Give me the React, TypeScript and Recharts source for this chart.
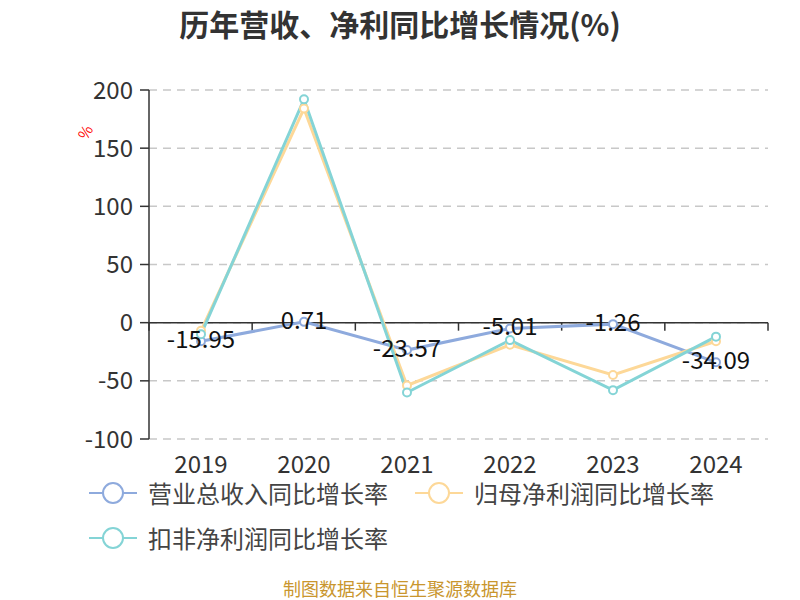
import React from 'react';
import { LineChart, Line, XAxis, YAxis, CartesianGrid, ReferenceLine, LabelList } from 'recharts';

const years = ['2019', '2020', '2021', '2022', '2023', '2024'];
const revenueGrowth = [-15.95, 0.71, -23.57, -5.01, -1.26, -34.09];
const netProfitGrowth = [-7, 184, -54, -19, -45, -16];
const deductedProfitGrowth = [-10, 192, -60, -15, -58, -12];
const yTicks = [-100, -50, 0, 50, 100, 150, 200];

const seriesNames = ['营业总收入同比增长率', '归母净利润同比增长率', '扣非净利润同比增长率'];
const seriesColors = ['#8eaadd', '#fdd898', '#84d4d6'];
const seriesKeys = ['revenue', 'net', 'deducted'];

const data = years.map((y, i) => ({
  year: y,
  revenue: revenueGrowth[i],
  net: netProfitGrowth[i],
  deducted: deductedProfitGrowth[i],
}));

const FONT = '"Noto Sans CJK SC", "Noto Sans", sans-serif';

const ZeroAxisTicks = (props: any) => {
  const vb = props.viewBox || {};
  const n = years.length;
  const out = [];
  for (let i = 0; i <= n; i++) {
    const x = vb.x + (vb.width * i) / n;
    out.push(<line key={i} x1={x} x2={x} y1={vb.y} y2={vb.y + 8} stroke="#333" strokeWidth={1.5} />);
  }
  return <g>{out}</g>;
};

const ValueLabel = (props: any) => {
  const { x, y, value } = props;
  return (
    <text x={x} y={y} dy={7} textAnchor="middle" fontSize={24} fill="#111" fontFamily={FONT}>
      {value}
    </text>
  );
};

const LegendItem = ({ name, color }: { name: string; color: string }) => (
  <div style={{ display: 'flex', alignItems: 'center', marginRight: 26 }}>
    <svg width={50} height={24} style={{ marginRight: 10 }}>
      <line x1={1} x2={49} y1={12} y2={12} stroke={color} strokeWidth={2} />
      <circle cx={25} cy={12} r={10} fill="#fff" stroke={color} strokeWidth={2} />
    </svg>
    <span style={{ fontSize: 24, color: '#444', fontFamily: FONT, lineHeight: '24px' }}>{name}</span>
  </div>
);

export default function App() {
  return (
    <div style={{ position: 'absolute', left: 0, top: 0, width: 800, height: 600, background: '#fff', fontFamily: FONT }}>
      <div style={{ position: 'absolute', left: 0, top: 3, width: 800, textAlign: 'center', fontSize: 30, fontWeight: 'bold', color: '#333', lineHeight: '40px' }}>
        历年营收、净利同比增长情况(%)
      </div>
      <div style={{ position: 'absolute', left: 78, top: 124, fontSize: 15, color: '#f00', transform: 'rotate(-60deg)', lineHeight: '16px' }}>%</div>
      <LineChart width={800} height={600} data={data} margin={{ top: 90, right: 32, left: 0, bottom: 101 }}>
        <CartesianGrid vertical={false} stroke="#c8c8c8" strokeDasharray="8 6" strokeWidth={1.5} />
        <XAxis dataKey="year" axisLine={false} tickLine={false} height={60} tickMargin={11}
          padding={{ left: 52, right: 52 }}
          tick={{ fontSize: 24, fill: '#333', fontFamily: FONT }} interval={0} />
        <YAxis domain={[-100, 200]} ticks={yTicks} width={149} tickSize={9} tickMargin={7}
          axisLine={{ stroke: '#333', strokeWidth: 1.5 }} tickLine={{ stroke: '#333', strokeWidth: 1.5 }}
          tick={{ fontSize: 24, fill: '#333', fontFamily: FONT }} interval={0} />
        <ReferenceLine y={0} stroke="#333" strokeWidth={1.5} label={<ZeroAxisTicks />} />
        {seriesKeys.map((k, i) => (
          <Line key={k} type="linear" dataKey={k} name={seriesNames[i]} stroke={seriesColors[i]} strokeWidth={3}
            dot={{ r: 4, fill: '#fff', stroke: seriesColors[i], strokeWidth: 2 }} activeDot={false}
            isAnimationActive={false}>
            {i === 0 && <LabelList dataKey={k} content={<ValueLabel />} />}
          </Line>
        ))}
      </LineChart>
      <div style={{ position: 'absolute', left: 88, top: 481, width: 700, display: 'flex', flexWrap: 'wrap', rowGap: 21 }}>
        {seriesNames.map((n, i) => (
          <LegendItem key={n} name={n} color={seriesColors[i]} />
        ))}
      </div>
      <div style={{ position: 'absolute', left: 0, top: 577, width: 800, textAlign: 'center', fontSize: 18, color: '#c9962e', lineHeight: '22px' }}>
        制图数据来自恒生聚源数据库
      </div>
    </div>
  );
}
